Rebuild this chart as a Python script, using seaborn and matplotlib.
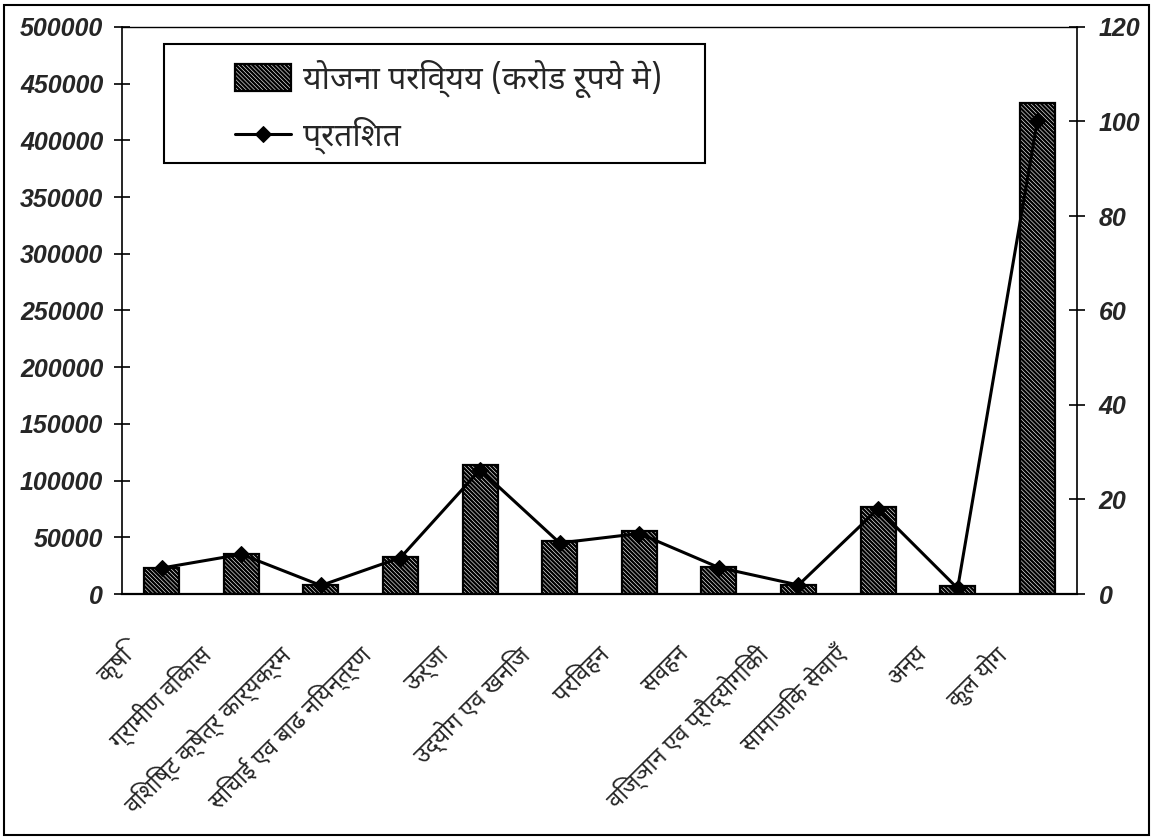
import numpy as np
import pandas as pd
import matplotlib
matplotlib.use("Agg")
import matplotlib.pyplot as plt
import seaborn as sns
from matplotlib.patches import Rectangle
from matplotlib.transforms import ScaledTranslation

# Plan outlay by sector (crore rupees) and share of the total (%)
sectors = [
    "कृषि",
    "ग्रामीण विकास",
    "विशिष्ट क्षेत्र कार्यक्रम",
    "सिचाई एव बाढ नियन्त्रण",
    "ऊर्जा",
    "उद्योग एव खनिज",
    "परिवहन",
    "सवहन",
    "विज्ञान एव प्रौद्योगिकी",
    "सामाजिक सेवाएँ",
    "अन्य",
    "कुल योग",
]
outlay = [23300, 35400, 7800, 32500, 113500, 46300, 55200, 23800, 8300, 77000, 7200, 433300]
percent = [5.5, 8.4, 1.8, 7.7, 26.3, 10.8, 12.8, 5.6, 1.9, 18.0, 1.2, 100.0]

bar_label = "योजना परिव्यय (करोड रूपये मे)"
line_label = "प्रतिशत"

left_ticks = list(range(0, 500001, 50000))
right_ticks = list(range(0, 121, 20))

sns.set_style("white")
plt.rcParams["font.family"] = ["Noto Sans Devanagari", "Hind", "FreeSans", "DejaVu Sans"]
plt.rcParams["hatch.linewidth"] = 1.7
plt.rcParams["hatch.color"] = "black"

W, H = 1155, 838
fig = plt.figure(figsize=(W / 100, H / 100), dpi=100)
fig.patch.set_facecolor("white")

L, R, T, B = 122, 1077, 27, 594
ax = fig.add_axes([L / W, 1 - B / H, (R - L) / W, (B - T) / H])

df = pd.DataFrame({"sector": sectors, "outlay": outlay, "percent": percent,
                   "pos": np.arange(len(sectors))})

sns.barplot(data=df, x="sector", y="outlay", ax=ax, color="white",
            edgecolor="black", linewidth=1.6, width=0.44, saturation=1)
for bar in ax.patches:
    bar.set_hatch("\\" * 8)

ax2 = ax.twinx()
sns.lineplot(data=df, x="pos", y="percent", ax=ax2, color="black", lw=2.2,
             marker="D", markersize=8, markeredgecolor="black", sort=False)

num_font = dict(fontfamily="Liberation Sans", fontweight="bold",
                fontstyle="italic", fontsize=18)

ax.set_xlim(-0.5, len(sectors) - 0.5)
ax.set_ylim(0, 500000)
ax2.set_ylim(0, 120)
ax.set_yticks(left_ticks, labels=[str(v) for v in left_ticks], **num_font)
ax2.set_yticks(right_ticks, labels=[str(v) for v in right_ticks], **num_font)

ax.set_xticks(range(len(sectors)), labels=sectors, rotation=45, ha="right",
              va="center", rotation_mode="anchor", fontsize=17)
ax.set_xticks(np.arange(-0.5, len(sectors), 1), minor=True)
ax.tick_params(axis="x", which="major", length=0, pad=41)
ax.tick_params(axis="x", which="minor", direction="inout", length=18,
               width=1.2, color="black")
ax.tick_params(axis="y", direction="inout", length=11, width=1.2, pad=8,
               color="black", left=True)
ax2.tick_params(axis="y", direction="inout", length=11, width=1.2, pad=10,
                color="black", right=True)

shift = ScaledTranslation(-34 / 100, 0, fig.dpi_scale_trans)
for lbl in ax.get_xticklabels():
    lbl.set_transform(lbl.get_transform() + shift)

for a in (ax, ax2):
    a.set_xlabel("")
    a.set_ylabel("")
    a.grid(False)

ax.spines["right"].set_visible(False)
ax.spines["left"].set_color("black")
ax.spines["left"].set_linewidth(1.2)
ax.spines["bottom"].set_color("black")
ax.spines["bottom"].set_linewidth(1.6)
ax.spines["top"].set_color("black")
ax.spines["top"].set_linewidth(1.0)
ax.spines["top"].set_linestyle((0, (2, 1)))
for s in ("left", "top", "bottom"):
    ax2.spines[s].set_visible(False)
ax2.spines["right"].set_color("black")
ax2.spines["right"].set_linewidth(1.2)

# legend box and entries
ax2.add_patch(Rectangle((0.044, 0.760), 0.5665, 0.210, transform=ax2.transAxes,
                        facecolor="white", edgecolor="black", lw=1.5, zorder=4))
leg = ax2.legend([ax.patches[0], ax2.lines[0]], [bar_label, line_label],
                 loc="upper left", bbox_to_anchor=(0.118, 0.943),
                 borderaxespad=0, borderpad=0, frameon=False, fontsize=23,
                 handlelength=1.75, handleheight=0.9, handletextpad=0.4,
                 labelspacing=0.6)
leg.set_zorder(5)

# outer frame around the whole chart
fig.patches.append(Rectangle((4 / W, 1 - 835 / H), 1145 / W, 830 / H,
                             transform=fig.transFigure, fill=False,
                             edgecolor="black", lw=1.5))

fig.savefig("out.png", dpi=100)
